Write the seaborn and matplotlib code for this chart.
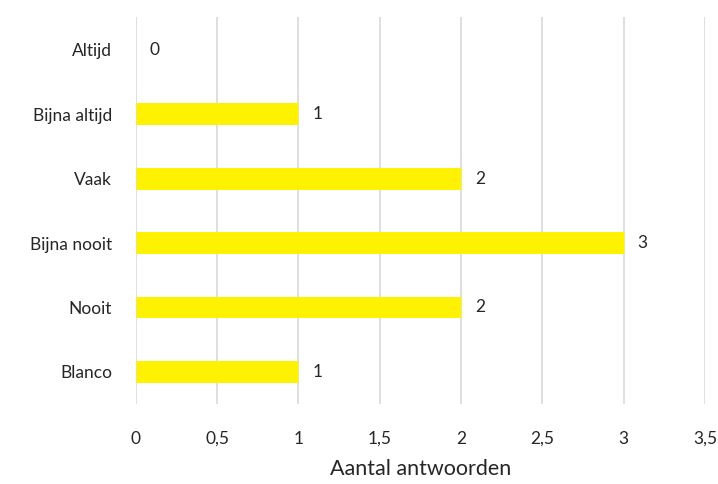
import matplotlib.pyplot as plt
import seaborn as sns
import pandas as pd

categories = ['Altijd', 'Bijna altijd', 'Vaak', 'Bijna nooit', 'Nooit', 'Blanco']
counts = [0, 1, 2, 3, 2, 1]
xticks = [0, 0.5, 1, 1.5, 2, 2.5, 3, 3.5]

df = pd.DataFrame({'cat': categories, 'n': counts})

sns.set_style('white')
plt.rcParams['font.family'] = ['Lato', 'DejaVu Sans']

fig, ax = plt.subplots(figsize=(7.18, 4.84), dpi=100)
fig.subplots_adjust(left=0.189, right=0.982, top=0.964, bottom=0.165)

sns.barplot(data=df, x='n', y='cat', order=categories, color='#FFF200',
            width=0.34, saturation=1, linewidth=0, ax=ax)

ax.set_xlim(0, 3.5)
ax.set_ylim(5.5, -0.5)
ax.set_xticks(xticks)
ax.set_xticklabels([f'{t:g}'.replace('.', ',') for t in xticks], fontsize=12.5)
ax.tick_params(axis='y', labelsize=12.5, length=0, pad=17)
ax.tick_params(axis='x', length=0, pad=19)
ax.grid(axis='x', color='#D9D9D9', linewidth=1.2)
ax.set_axisbelow(True)
for s in ax.spines.values():
    s.set_visible(False)
ax.set_ylabel('')
ax.set_xlabel('Aantal antwoorden', fontsize=15.5, labelpad=9)

for i, v in enumerate(counts):
    ax.annotate(str(v), (v, i), xytext=(10, 0), textcoords='offset points',
                va='center', ha='left', fontsize=12.5)

fig.savefig('out.png', dpi=100)
